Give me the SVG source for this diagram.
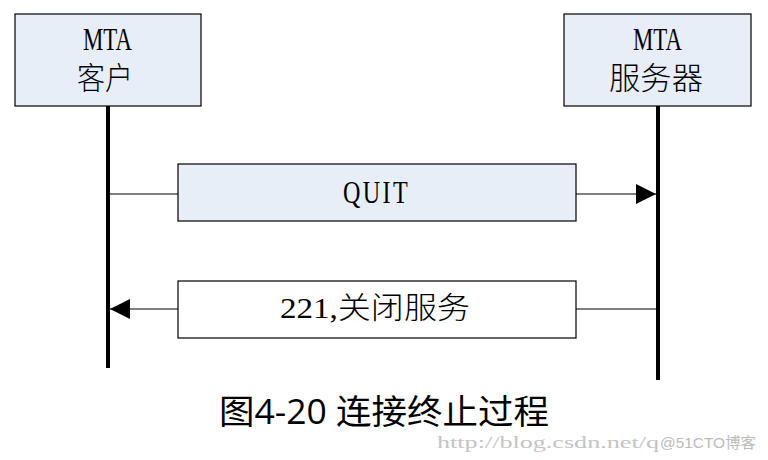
<svg xmlns="http://www.w3.org/2000/svg" width="768" height="460" viewBox="0 0 768 460">
<style>
.box{stroke:#000;stroke-width:1.2}
.lat{font-family:"Liberation Serif","Noto Sans CJK SC",serif;fill:#000}
.cjk{font-family:"Liberation Serif","Noto Sans CJK SC",serif;fill:#000;font-weight:300}
.life{stroke:#000;stroke-width:4}
.msg{stroke:#000;stroke-width:1.2;fill:none}
</style>
<defs>
<marker id="ah" viewBox="0 0 10 10" refX="10" refY="5" markerWidth="20" markerHeight="20" markerUnits="userSpaceOnUse" orient="auto">
<path d="M0,0 L10,5 L0,10 z" fill="#000"/>
</marker>
</defs>
<rect width="768" height="460" fill="#fff"/>
<g id="client">
<rect class="box" x="15" y="14" width="186" height="92" fill="#e8eef8"/>
<text class="lat" x="83" y="50" font-size="32" textLength="49" lengthAdjust="spacingAndGlyphs">MTA</text>
<text class="cjk" x="77" y="89" font-size="31" textLength="56" lengthAdjust="spacingAndGlyphs">客户</text>
</g>
<g id="server">
<rect class="box" x="564" y="14" width="187" height="92" fill="#e8eef8"/>
<text class="lat" x="633" y="50" font-size="32" textLength="49" lengthAdjust="spacingAndGlyphs">MTA</text>
<text class="cjk" x="609" y="89" font-size="31" textLength="94" lengthAdjust="spacingAndGlyphs">服务器</text>
</g>
<g id="connectors">
<line class="life" x1="108" y1="106" x2="108" y2="368"/>
<line class="life" x1="658" y1="106" x2="658" y2="380"/>
<line class="msg" x1="108" y1="194" x2="178" y2="194"/>
<line class="msg" x1="576" y1="194" x2="656" y2="194" marker-end="url(#ah)"/>
<line class="msg" x1="656" y1="309" x2="576" y2="309"/>
<line class="msg" x1="178" y1="309" x2="110" y2="309" marker-end="url(#ah)"/>
</g>
<g id="quit">
<rect class="box" x="178" y="164" width="398" height="57" fill="#e8eef8"/>
<text class="lat" x="343" y="203" font-size="31" textLength="67" lengthAdjust="spacingAndGlyphs" letter-spacing="3">QUIT</text>
</g>
<g id="reply">
<rect class="box" x="178" y="281" width="398" height="57" fill="#fff"/>
<text x="280" y="318" font-size="30" textLength="190" lengthAdjust="spacingAndGlyphs"><tspan class="lat">221,</tspan><tspan class="cjk">关闭服务</tspan></text>
</g>
<text x="219" y="424" font-family="'Open Sans','Noto Sans CJK SC',sans-serif" font-size="34" fill="#000" textLength="330" lengthAdjust="spacingAndGlyphs">图4-20 连接终止过程</text>
<text x="437" y="448" font-family="'Liberation Serif',serif" font-size="16" fill="#c4c4c4" textLength="222" lengthAdjust="spacingAndGlyphs">http://blog.csdn.net/q</text>
<text x="660" y="448" font-family="'Liberation Sans','Noto Sans CJK SC',sans-serif" font-size="15" fill="#bcbcbc" textLength="96" lengthAdjust="spacingAndGlyphs">@51CTO博客</text>
</svg>
